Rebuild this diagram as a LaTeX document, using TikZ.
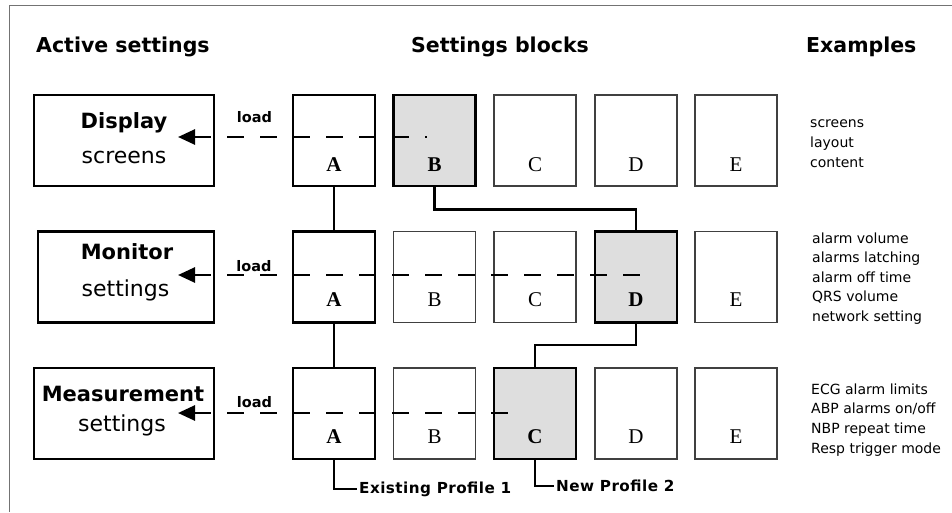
\documentclass[tikz,border=0pt]{standalone}
\usepackage{fontspec}
\newfontfamily\djv{DejaVu Sans}
\newfontfamily\djvwide{DejaVu Sans}[LetterSpace=3]
\newfontfamily\tms{Liberation Serif}
\usetikzlibrary{arrows.meta}
\begin{document}
\begin{tikzpicture}[x=1pt,y=-1pt,
  frameline/.style={draw=black!55, line width=1pt},
  actbox/.style={draw, line width=2.7pt, minimum height=91pt, inner sep=0},
  blk/.style={draw=black!75, line width=1.2pt, minimum width=82pt, minimum height=91pt, inner sep=0, fill=white},
  blkA/.style={blk, draw=black, line width=2.7pt},
  blkS/.style={blkA, fill=black!13},
  letter/.style={font=\tms\fontsize{21}{21}\selectfont, anchor=base, inner sep=0},
  bletter/.style={letter, font=\tms\bfseries\fontsize{21}{21}\selectfont},
  head/.style={font=\djv\bfseries\fontsize{20.5}{22}\selectfont, inner sep=0, anchor=base},
  boxtitle/.style={font=\djv\bfseries\fontsize{21}{22}\selectfont, inner sep=0, anchor=base},
  boxsub/.style={font=\djv\fontsize{22}{22}\selectfont, inner sep=0, anchor=base},
  extext/.style={font=\djv\fontsize{14}{14}\selectfont, inner sep=0, anchor=base west},
  loadtext/.style={font=\djv\bfseries\fontsize{14.5}{15}\selectfont, inner sep=0, anchor=base},
  proftext/.style={font=\djvwide\bfseries\fontsize{15.2}{17}\selectfont, inner xsep=2pt, inner ysep=0, anchor=west},
  conn/.style={draw, line width=2.5pt},
  loadline/.style={draw, line width=2.7pt, dash pattern=on 17pt off 16pt, {Triangle[length=17pt,width=15pt]}-}
]
\useasboundingbox (0,0) rectangle (952,512);
% outer frame
\draw[frameline] (952,5) -- (9,5) -- (9,512);

% headings
\node[head, anchor=base west] (h1) at (36,52) {Active settings};
\node[head] (h2) at (500,52) {Settings blocks};
\node[head, anchor=base west] (h3) at (806,52) {Examples};

% active settings boxes
\node[actbox, minimum width=180pt] (disp) at (124,140.5) {};
\node[actbox, minimum width=176pt] (mon) at (126,277) {};
\node[actbox, minimum width=180pt] (meas) at (124,413.5) {};
\node[boxtitle] (dispT) at (124,128) {Display};
\node[boxsub] (dispS) at (124,163) {screens};
\node[boxtitle] (monT) at (127,259) {Monitor};
\node[boxsub] (monS) at (125.5,296) {settings};
\node[boxtitle] (measT) at (123,401) {Measurement};
\node[boxsub] (measS) at (122,431) {settings};

% settings blocks
% row 1
\node[blkA] (r1a) at (334,140.5) {};
\node[blkS] (r1b) at (434.5,140.5) {};
\node[blk]  (r1c) at (535,140.5) {};
\node[blk]  (r1d) at (636,140.5) {};
\node[blk]  (r1e) at (736,140.5) {};
% row 2
\node[blkA] (r2a) at (334,277) {};
\node[blk]  (r2b) at (434.5,277) {};
\node[blk]  (r2c) at (535,277) {};
\node[blkS] (r2d) at (636,277) {};
\node[blk]  (r2e) at (736,277) {};
% row 3
\node[blkA] (r3a) at (334,413.5) {};
\node[blk]  (r3b) at (434.5,413.5) {};
\node[blkS] (r3c) at (535,413.5) {};
\node[blk]  (r3d) at (636,413.5) {};
\node[blk]  (r3e) at (736,413.5) {};

% letters
\node[bletter] (l1a) at (334,171) {A};
\node[bletter] (l1b) at (434.5,171) {B};
\node[letter]  (l1c) at (535,171) {C};
\node[letter]  (l1d) at (636,171) {D};
\node[letter]  (l1e) at (736,171) {E};
\node[bletter] (l2a) at (334,306) {A};
\node[letter]  (l2b) at (434.5,306) {B};
\node[letter]  (l2c) at (535,306) {C};
\node[bletter] (l2d) at (636,306) {D};
\node[letter]  (l2e) at (736,306) {E};
\node[bletter] (l3a) at (334,443) {A};
\node[letter]  (l3b) at (434.5,443) {B};
\node[bletter] (l3c) at (535,443) {C};
\node[letter]  (l3d) at (636,443) {D};
\node[letter]  (l3e) at (736,443) {E};

% solid connectors
\draw[conn] (r1a.south) -- (r2a.north);
\draw[conn] (r2a.south) -- (r3a.north);
\draw[conn] (r1b.south) -- ++(0,22) -| (r2d.north);
\draw[conn] (r2d.south) -- ++(0,21) -| (r3c.north);

% profile labels
\node[proftext] (p1) at (357,489) {Existing Profile 1};
\node[proftext] (p2) at (554,486) {New Profile 2};
\draw[conn] (r3a.south) |- (p1.west);
\draw[conn] (r3c.south) |- (p2.west);

% load lines
\coordinate (t1) at (178,137);
\coordinate (e1) at (427,137);
\coordinate (t2) at (178,275);
\coordinate (e2) at (640,275);
\coordinate (t3) at (178,413);
\coordinate (e3) at (522,413);
\draw[loadline] (t1) -- (e1);
\draw[loadline] (t2) -- (e2);
\draw[loadline] (t3) -- (e3);
\node[loadtext] (ld1) at (254.5,122) {load};
\node[loadtext] (ld2) at (254,271) {load};
\node[loadtext] (ld3) at (254.5,407) {load};

% examples
\foreach \t [count=\i] in {screens, layout, content}
  \node[extext] (exa\i) at (810,{127+20*(\i-1)}) {\t};
\foreach \t [count=\i] in {alarm volume, alarms latching, alarm off time, QRS volume, network setting}
  \node[extext] (exb\i) at (812,{243+19.6*(\i-1)}) {\t};
\foreach \t [count=\i] in {ECG alarm limits, ABP alarms on/off, NBP repeat time, Resp trigger mode}
  \node[extext] (exc\i) at (811,{394+19.7*(\i-1)}) {\t};
\end{tikzpicture}
\end{document}
